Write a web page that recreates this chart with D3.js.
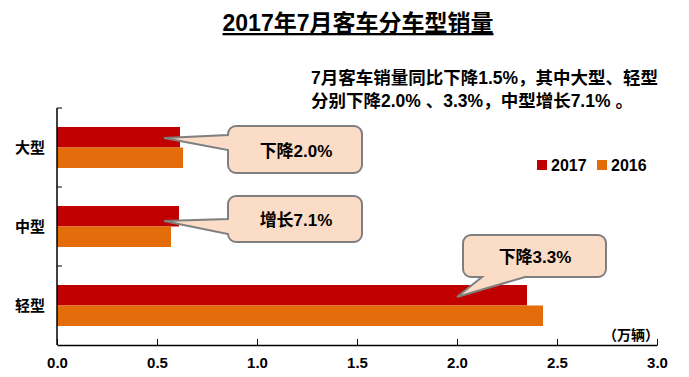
<!DOCTYPE html>
<html><head><meta charset="utf-8">
<script src="https://cdn.jsdelivr.net/npm/d3@7"></script>
<style>
body{margin:0;background:#fff;}
svg text{font-family:"Liberation Sans","Noto Sans CJK SC",sans-serif;font-weight:bold;fill:#000;}
</style></head><body>
<svg id="c" width="689" height="377"></svg>
<script>
const categories = ["大型","中型","轻型"];
const seriesNames = ["2017","2016"];
const values2017 = [0.615, 0.61, 2.35];
const values2016 = [0.63, 0.57, 2.43];
const xTicks = [0,0.5,1,1.5,2,2.5,3];
const callouts = ["下降2.0%","增长7.1%","下降3.3%"];
const titleText = "2017年7月客车分车型销量";
const noteLines = ["7月客车销量同比下降1.5%，其中大型、轻型","分别下降2.0% 、3.3%，中型增长7.1% 。"];
const unitText = "（万辆）";
const colors = ["#C00000","#E46C0A"];

const svg = d3.select("#c");
const x = d3.scaleLinear().domain([0,3]).range([57,657]);
const y = d3.scaleBand().domain(categories).range([108,345]).padding(0);
const sub = d3.scaleBand().domain(seriesNames).range([19, 60]).padding(0);
const seriesVals = [values2017, values2016];

// bars
seriesNames.forEach((s,si)=>{
  svg.append("g").selectAll("rect").data(categories).join("rect")
    .attr("x", x(0))
    .attr("y", d=> y(d)+sub(s))
    .attr("width", (d,i)=> x(seriesVals[si][i]) - x(0))
    .attr("height", sub.bandwidth())
    .attr("fill", colors[si]);
});

// x axis
const xa = svg.append("g").attr("transform","translate(0,345)")
  .call(d3.axisBottom(x).tickValues(xTicks).tickFormat(d3.format(".1f")).tickSizeInner(-6).tickSizeOuter(0).tickPadding(10));
xa.select(".domain").attr("stroke","#000").attr("stroke-width",1.5);
xa.selectAll(".tick line").attr("stroke","#000");
xa.selectAll("text").style("font-size","15px").attr("dy","0.85em");

// y axis (boundaries)
const bounds = [108,187,266,345];
const ya = svg.append("g").attr("transform","translate(57,0)");
ya.append("line").attr("x1",0).attr("x2",0).attr("y1",108).attr("y2",345).attr("stroke","#000").attr("stroke-width",1.5);
ya.selectAll(".t").data(bounds.slice(0,3)).join("line").attr("x1",0).attr("x2",5).attr("y1",d=>d).attr("y2",d=>d).attr("stroke","#000");
svg.append("g").selectAll("text").data(categories).join("text")
  .attr("x",45).attr("y",d=>y(d)+y.bandwidth()/2+5).attr("text-anchor","end")
  .style("font-size","15px").text(d=>d);

// title
svg.append("text").attr("x",358).attr("y",31).attr("text-anchor","middle")
  .style("font-size","23px").style("text-decoration","underline").text(titleText);

// note
svg.append("g").selectAll("text").data(noteLines).join("text")
  .attr("x",311).attr("y",(d,i)=>84+i*23).style("font-size","17.5px").text(d=>d);

// legend
const lg = svg.append("g");
[[537,551],[597,611]].forEach((p,i)=>{
  lg.append("rect").attr("x",p[0]).attr("y",160).attr("width",10).attr("height",10).attr("fill",colors[i]);
  lg.append("text").attr("x",p[1]).attr("y",171).style("font-size","16px").text(seriesNames[i]);
});

// unit
svg.append("text").attr("x",659).attr("y",340).attr("text-anchor","end").style("font-size","14px").text(unitText);

// callouts
function leftCallout(x0,y0,x1,y1,r,tx,ty,b1,b2){
  return `M${x0+r},${y0}H${x1-r}A${r},${r} 0 0 1 ${x1},${y0+r}V${y1-r}A${r},${r} 0 0 1 ${x1-r},${y1}H${x0+r}A${r},${r} 0 0 1 ${x0},${y1-r}V${b2}L${tx},${ty}L${x0},${b1}V${y0+r}A${r},${r} 0 0 1 ${x0+r},${y0}Z`;
}
function bottomCallout(x0,y0,x1,y1,r,tx,ty,b1,b2){
  return `M${x0+r},${y0}H${x1-r}A${r},${r} 0 0 1 ${x1},${y0+r}V${y1-r}A${r},${r} 0 0 1 ${x1-r},${y1}H${b2}L${tx},${ty}L${b1},${y1}H${x0+r}A${r},${r} 0 0 1 ${x0},${y1-r}V${y0+r}A${r},${r} 0 0 1 ${x0+r},${y0}Z`;
}
const cg = svg.append("g");
const boxes = [
  {p:leftCallout(228,126,362,173,8,164,138,135,150), cx:296, cy:157},
  {p:leftCallout(228,196,362,242,8,164,221,219,234), cx:296, cy:226},
  {p:bottomCallout(463,235,606,277,8,457,297,482,525), cx:535, cy:263}
];
boxes.forEach((b,i)=>{
  cg.append("path").attr("d",b.p).attr("fill","#FBDCC6").attr("stroke","#7F7F7F").attr("stroke-width",2);
  cg.append("text").attr("x",b.cx).attr("y",b.cy).attr("text-anchor","middle").style("font-size","17px").text(callouts[i]);
});
</script></body></html>
